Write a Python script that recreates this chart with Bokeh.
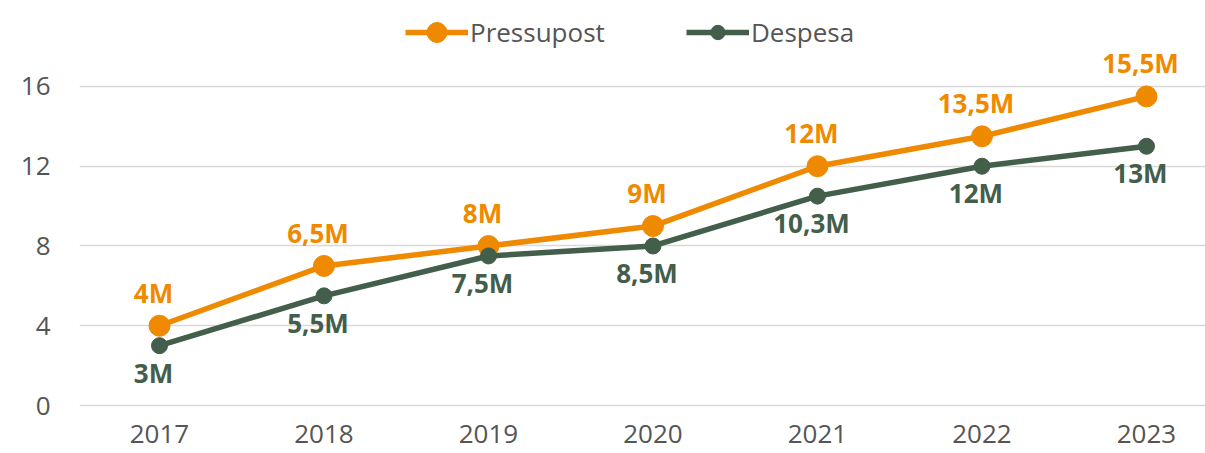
from bokeh.plotting import figure
from bokeh.models import Range1d, FixedTicker, Legend, LegendItem, ColumnDataSource
from bokeh.core.properties import value
from bokeh.embed import file_html
from bokeh.resources import INLINE

years = [2017, 2018, 2019, 2020, 2021, 2022, 2023]
pressupost = [4, 7, 8, 9, 12, 13.5, 15.5]
despesa = [3, 5.5, 7.5, 8, 10.5, 12, 13]
pressupost_labels = ["4M", "6,5M", "8M", "9M", "12M", "13,5M", "15,5M"]
despesa_labels = ["3M", "5,5M", "7,5M", "8,5M", "10,3M", "12M", "13M"]
y_ticks = [0, 4, 8, 12, 16]

ORANGE = "#EF8A00"
GREEN = "#435E4A"
FONT = "Open Sans"
TICK_COLOR = "#555555"
FS = "26px"

p = figure(width=1205, height=453, output_backend="svg", toolbar_location=None,
           x_range=Range1d(2016.5137, 2023.3587), y_range=Range1d(-0.40, 20.31),
           min_border_left=79, min_border_right=0, min_border_top=0, min_border_bottom=40)
p.outline_line_color = None
p.background_fill_color = "white"
p.border_fill_color = "white"

p.xgrid.grid_line_color = None
p.ygrid.grid_line_color = "#d9d9d9"
p.ygrid.grid_line_width = 1.5

p.xaxis.ticker = FixedTicker(ticks=years)
p.yaxis.ticker = FixedTicker(ticks=y_ticks)
for ax in (p.xaxis, p.yaxis):
    ax.axis_line_color = None
    ax.major_tick_line_color = None
    ax.minor_tick_line_color = None
    ax.major_label_text_font = FONT
    ax.major_label_text_font_size = FS
    ax.major_label_text_color = TICK_COLOR
p.yaxis.major_label_standoff = 23
p.xaxis.major_label_standoff = 5

src_p = ColumnDataSource(dict(x=years, y=pressupost, t=pressupost_labels))
src_d = ColumnDataSource(dict(x=years, y=despesa, t=despesa_labels))

lp = p.line("x", "y", source=src_p, line_color=ORANGE, line_width=5.5)
cp = p.scatter("x", "y", source=src_p, size=21, fill_color=ORANGE, line_color=ORANGE)
ld = p.line("x", "y", source=src_d, line_color=GREEN, line_width=5.5)
cd = p.scatter("x", "y", source=src_d, size=16, fill_color=GREEN, line_color=GREEN)

p.text("x", "y", text="t", source=src_p, text_color=ORANGE, text_font=value(FONT),
       text_font_size=FS, text_font_style="bold", text_align="center",
       text_baseline="middle", y_offset=-33, x_offset=-6)
p.text("x", "y", text="t", source=src_d, text_color=GREEN, text_font=value(FONT),
       text_font_size=FS, text_font_style="bold", text_align="center",
       text_baseline="middle", y_offset=27, x_offset=-6)


def make_legend(label, renderers, gh, loc):
    lg = Legend(items=[LegendItem(label=label, renderers=renderers)],
                location=loc, orientation="horizontal")
    lg.border_line_color = None
    lg.background_fill_alpha = 0
    lg.label_text_font = FONT
    lg.label_text_font_size = FS
    lg.label_text_color = TICK_COLOR
    lg.glyph_width = 63
    lg.glyph_height = gh
    lg.label_height = 24
    lg.label_standoff = 2
    lg.padding = 0
    lg.margin = 0
    return lg


# frame bottom at y=413 screen; legend centres at y=32
p.add_layout(make_legend("Pressupost", [lp, cp], 50, (326, 413 - 57)))
p.add_layout(make_legend("Despesa", [ld, cd], 36, (607, 413 - 50)))

open("out.html", "w").write(file_html(p, INLINE))
